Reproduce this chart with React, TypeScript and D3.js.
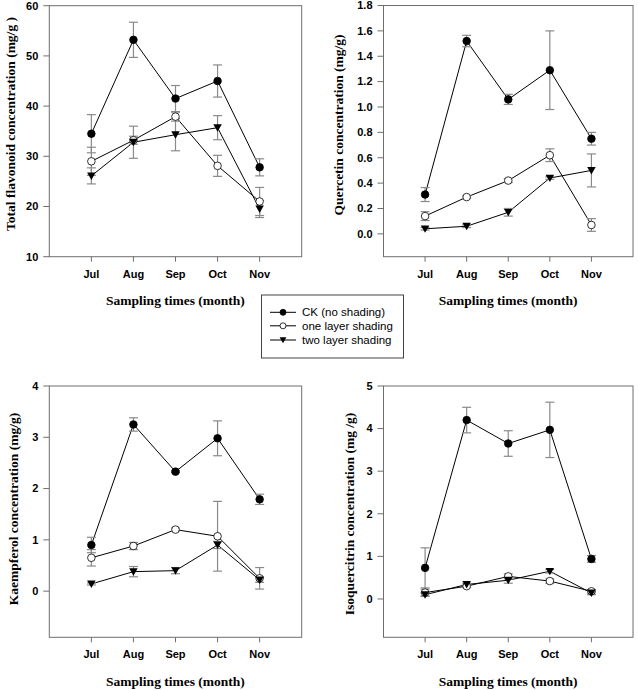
import React from "react";
import * as d3 from "d3";

const months = ["Jul", "Aug", "Sep", "Oct", "Nov"];
const seriesNames = ["CK (no shading)", "one layer shading", "two layer shading"];

// Total flavonoid
const flavCK = [34.5, 53.2, 41.5, 45.0, 27.8];
const flavCKErr = [3.8, 3.5, 2.6, 3.2, 1.7];
const flavOne = [29.0, 33.2, 37.9, 28.1, 21.0];
const flavOneErr = [2.8, 0.8, 0.9, 2.1, 2.8];
const flavTwo = [26.1, 32.8, 34.3, 35.7, 19.5];
const flavTwoErr = [1.6, 3.2, 3.2, 2.4, 1.7];

// Quercetin
const querCK = [0.31, 1.52, 1.06, 1.29, 0.75];
const querCKErr = [0.055, 0.045, 0.04, 0.31, 0.05];
const querOne = [0.14, 0.29, 0.42, 0.62, 0.07];
const querOneErr = [0.035, 0.01, 0.015, 0.05, 0.05];
const querTwo = [0.04, 0.06, 0.17, 0.44, 0.5];
const querTwoErr = [0.01, 0.01, 0.03, 0.01, 0.13];

// Kaempferol
const kaemCK = [0.9, 3.25, 2.33, 2.98, 1.79];
const kaemCKErr = [0.15, 0.13, 0.02, 0.34, 0.1];
const kaemOne = [0.65, 0.88, 1.2, 1.07, 0.25];
const kaemOneErr = [0.16, 0.07, 0.03, 0.68, 0.21];
const kaemTwo = [0.14, 0.38, 0.4, 0.9, 0.22];
const kaemTwoErr = [0.02, 0.1, 0.06, 0.07, 0.05];

// Isoquercitrin
const isoCK = [0.73, 4.2, 3.65, 3.97, 0.94];
const isoCKErr = [0.47, 0.3, 0.3, 0.65, 0.08];
const isoOne = [0.15, 0.3, 0.53, 0.42, 0.18];
const isoOneErr = [0.08, 0.03, 0.06, 0.05, 0.04];
const isoTwo = [0.1, 0.34, 0.44, 0.65, 0.14];
const isoTwoErr = [0.04, 0.03, 0.07, 0.04, 0.04];

const flavTicks = [10, 20, 30, 40, 50, 60];
const querTicks = [0, 0.2, 0.4, 0.6, 0.8, 1.0, 1.2, 1.4, 1.6, 1.8];
const kaemTicks = [0, 1, 2, 3, 4];
const isoTicks = [0, 1, 2, 3, 4, 5];

const AXIS = "#6e6e6e";
const ERR = "#8a8a8a";
const TICKFONT = "'Liberation Sans', Arial, sans-serif";
const TITLEFONT = "'Liberation Serif', 'Times New Roman', serif";

type PanelSpec = {
  left: number; right: number; top: number; bottom: number;
  domain: [number, number]; ticks: number[]; fmt: (v: number) => string;
  title: string; titleX: number; titleY: number;
  data: number[][]; errs: number[][];
  showXTitle: boolean; xTitleY: number;
};

function Marker({ kind, x, y, r = 3.8 }: { kind: number; x: number; y: number; r?: number }) {
  if (kind === 0) return <circle cx={x} cy={y} r={r} fill="#000" stroke="#000" strokeWidth={0.8} />;
  if (kind === 1) return <circle cx={x} cy={y} r={r} fill="#fff" stroke="#000" strokeWidth={0.8} />;
  const s = r * 1.12;
  return <path d={`M${x - s},${y - s * 0.8} L${x + s},${y - s * 0.8} L${x},${y + s * 0.95} Z`} fill="#000" />;
}

function Panel({ p }: { p: PanelSpec }) {
  const x = d3.scaleLinear().domain([0, 6]).range([p.left, p.right]);
  const y = d3.scaleLinear().domain(p.domain).range([p.bottom, p.top]);
  const line = d3.line<number>().x((_, i) => x(i + 1)).y((v) => y(v));
  const cap = 4.5;
  return (
    <g>
      <rect x={p.left} y={p.top} width={p.right - p.left} height={p.bottom - p.top} fill="none" stroke={AXIS} strokeWidth={1} />
      {p.ticks.map((t) => (
        <g key={"yt" + t}>
          <line x1={p.left - 6} x2={p.left} y1={y(t)} y2={y(t)} stroke={AXIS} />
          <text x={p.left - 11} y={y(t)} dy="0.35em" textAnchor="end" fontFamily={TICKFONT} fontWeight="bold" fontSize={11}>{p.fmt(t)}</text>
        </g>
      ))}
      {months.map((m, i) => (
        <g key={"xt" + m}>
          <line x1={x(i + 1)} x2={x(i + 1)} y1={p.bottom} y2={p.bottom + 5} stroke={AXIS} />
          <text x={x(i + 1)} y={p.bottom + 21} textAnchor="middle" fontFamily={TICKFONT} fontWeight="bold" fontSize={11}>{m}</text>
        </g>
      ))}
      <text transform={`translate(${p.titleX},${p.titleY}) rotate(-90)`} textAnchor="middle" dy="0.35em" fontFamily={TITLEFONT} fontWeight="bold" fontSize={13.5}>{p.title}</text>
      {p.showXTitle && (
        <text x={(p.left + p.right) / 2} y={p.xTitleY} textAnchor="middle" fontFamily={TITLEFONT} fontWeight="bold" fontSize={13.5}>Sampling times (month)</text>
      )}
      {p.data.map((s, k) => (
        <path key={"l" + k} d={line(s) || ""} fill="none" stroke="#000" strokeWidth={1} />
      ))}
      {p.data.map((s, k) =>
        s.map((v, i) => {
          const e = p.errs[k][i];
          const cx = x(i + 1);
          return (
            <g key={"e" + k + "_" + i} stroke={ERR} strokeWidth={1.2}>
              <line x1={cx} x2={cx} y1={y(v - e)} y2={y(v + e)} />
              <line x1={cx - cap} x2={cx + cap} y1={y(v + e)} y2={y(v + e)} />
              <line x1={cx - cap} x2={cx + cap} y1={y(v - e)} y2={y(v - e)} />
            </g>
          );
        })
      )}
      {p.data.map((s, k) =>
        s.map((v, i) => <Marker key={"m" + k + "_" + i} kind={k} x={x(i + 1)} y={y(v)} />)
      )}
    </g>
  );
}

export default function App() {
  const f0 = (v: number) => d3.format("d")(v);
  const f1 = (v: number) => d3.format(".1f")(v);
  const panels: PanelSpec[] = [
    {
      left: 49.3, right: 301.7, top: 5.7, bottom: 256.7, domain: [10, 60], ticks: flavTicks, fmt: f0,
      title: "Total flavonoid concentration (mg/g )", titleX: 10, titleY: 124,
      data: [flavCK, flavOne, flavTwo], errs: [flavCKErr, flavOneErr, flavTwoErr],
      showXTitle: true, xTitleY: 305,
    },
    {
      left: 383.5, right: 633, top: 5.5, bottom: 256.7, domain: [-0.18, 1.8], ticks: querTicks, fmt: f1,
      title: "Quercetin concentration (mg/g)", titleX: 338, titleY: 125,
      data: [querCK, querOne, querTwo], errs: [querCKErr, querOneErr, querTwoErr],
      showXTitle: true, xTitleY: 305,
    },
    {
      left: 49.3, right: 301.7, top: 386, bottom: 637.3, domain: [-0.9, 4], ticks: kaemTicks, fmt: f0,
      title: "Kaempferol concentration (mg/g)", titleX: 13, titleY: 509,
      data: [kaemCK, kaemOne, kaemTwo], errs: [kaemCKErr, kaemOneErr, kaemTwoErr],
      showXTitle: true, xTitleY: 686,
    },
    {
      left: 383.5, right: 633, top: 386, bottom: 637.3, domain: [-0.9, 5], ticks: isoTicks, fmt: f0,
      title: "Isoquercitrin concentration (mg /g)", titleX: 349, titleY: 514,
      data: [isoCK, isoOne, isoTwo], errs: [isoCKErr, isoOneErr, isoTwoErr],
      showXTitle: true, xTitleY: 686,
    },
  ];
  const legX = 261.5, legY = 295, legW = 142, legH = 63;
  const legRows = [312.3, 325.8, 340];
  return (
    <svg width={638} height={690} style={{ position: "absolute", left: 0, top: 0, background: "#fff" }}>
      <rect x={0} y={0} width={638} height={690} fill="#fff" />
      {panels.map((p, i) => <Panel key={i} p={p} />)}
      <g>
        <rect x={legX} y={legY} width={legW} height={legH} fill="#fff" stroke="#444" strokeWidth={1} />
        {seriesNames.map((n, k) => (
          <g key={n}>
            <line x1={270} x2={296} y1={legRows[k]} y2={legRows[k]} stroke="#000" strokeWidth={1} />
            <Marker kind={k} x={283} y={legRows[k]} r={3} />
            <text x={302} y={legRows[k]} dy="0.35em" fontFamily={TICKFONT} fontSize={11.5}>{n}</text>
          </g>
        ))}
      </g>
    </svg>
  );
}
